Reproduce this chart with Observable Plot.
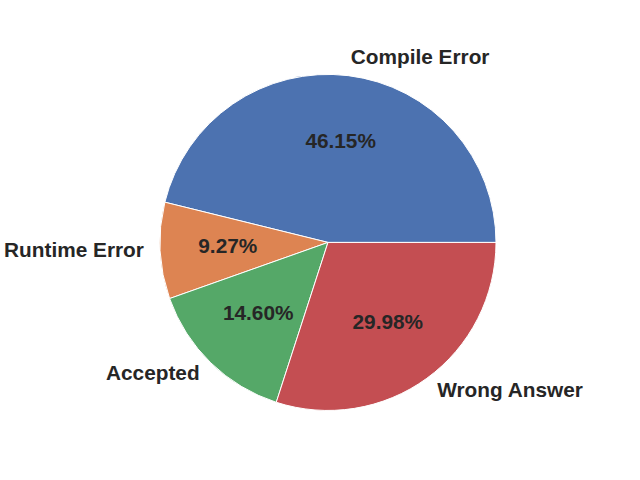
<!DOCTYPE html>
<html>
<head>
<meta charset="utf-8">
<script src="https://cdn.jsdelivr.net/npm/d3@7"></script>
<script src="https://cdn.jsdelivr.net/npm/@observablehq/plot@0.6"></script>
<style>
  html, body { margin: 0; padding: 0; background: #fff; }
</style>
</head>
<body>
<div id="chart"></div>
<script>
const categories = ["Compile Error", "Runtime Error", "Accepted", "Wrong Answer"];
const shares = [46.15, 9.27, 14.60, 29.98];
const colors = ["#4C72B0", "#DD8452", "#55A868", "#C44E52"];

const data = categories.map((c, i) => ({label: c, value: shares[i], color: colors[i]}));

// matplotlib-style pie: start at 3 o'clock, counter-clockwise
const pie = d3.pie().value(d => d.value).sort(null)
  .startAngle(Math.PI / 2).endAngle(Math.PI / 2 - 2 * Math.PI);
const arcs = pie(data);

// label positions from mid-angles (d3 angle: 0 at 12 o'clock, clockwise)
const labelRows = arcs.map(a => {
  const m = (a.startAngle + a.endAngle) / 2;
  const ux = Math.sin(m), uy = Math.cos(m);
  return {
    label: a.data.label,
    pct: a.data.value.toFixed(2) + "%",
    lx: 1.1 * ux, ly: 1.1 * uy,
    px: 0.6 * ux, py: 0.6 * uy,
    anchor: ux >= 0 ? "start" : "end"
  };
});

const font = "Liberation Sans, Arial, Helvetica, sans-serif";

const wedges = (index, scales) => {
  const cx = scales.x(0), cy = scales.y(0);
  const r = scales.x(1) - scales.x(0);
  const arc = d3.arc().innerRadius(0).outerRadius(r);
  const g = d3.create("svg:g").attr("transform", `translate(${cx},${cy})`);
  g.selectAll("path").data(arcs).join("path")
    .attr("d", arc)
    .attr("fill", d => d.data.color)
    .attr("stroke", "#ffffff")
    .attr("stroke-width", 1)
    .attr("stroke-linejoin", "round");
  return g.node();
};

const textStyle = {fontSize: 20.8, fontWeight: "bold", fill: "#262626", fontFamily: font, dy: -2};

const chart = Plot.plot({
  width: 640,
  height: 480,
  margin: 0,
  style: {background: "#ffffff", fontFamily: font},
  x: {domain: [-1.952, 1.857], axis: null},
  y: {domain: [-1.414, 1.443], axis: null},
  marks: [
    wedges,
    Plot.text(labelRows.filter(d => d.anchor === "start"), {
      x: "lx", y: "ly", text: "label", textAnchor: "start", ...textStyle
    }),
    Plot.text(labelRows.filter(d => d.anchor === "end"), {
      x: "lx", y: "ly", text: "label", textAnchor: "end", ...textStyle
    }),
    Plot.text(labelRows, {
      x: "px", y: "py", text: "pct", textAnchor: "middle", ...textStyle
    })
  ]
});

document.getElementById("chart").appendChild(chart);
</script>
</body>
</html>
